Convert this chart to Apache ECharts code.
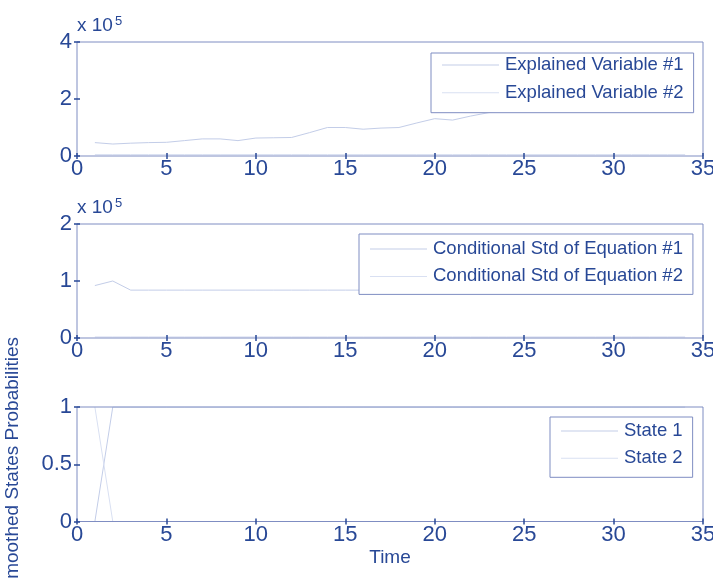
<!DOCTYPE html>
<html>
<head>
<meta charset="utf-8">
<script src="https://cdn.jsdelivr.net/npm/echarts@6/dist/echarts.min.js"></script>
<style>
  html, body { margin: 0; padding: 0; background: #ffffff; }
  #chart { width: 713px; height: 578px; }
</style>
</head>
<body>
<div id="chart"></div>
<script>
// Time index of the regime-switching model output
const timeSteps = [1, 2, 3, 4, 5, 6, 7, 8, 9, 10, 11, 12, 13, 14, 15, 16, 17,
                   18, 19, 20, 21, 22, 23, 24, 25, 26, 27, 28, 29, 30, 31, 32, 33, 34];

// Explained variables (raw units)
const explainedVar1 = [47000, 42000, 45000, 47000, 48000, 54000, 60000, 60000, 54000, 63000,
                       64000, 65000, 82000, 100000, 100000, 94000, 98000, 100000, 116000, 131000,
                       126000, 140000, 152000, 160000, 170000, 180000, 190000, 200000, 210000, 220000,
                       230000, 240000, 250000, 260000];
const explainedVar2 = [5000, 5000, 5000, 5000, 5000, 5000, 5000, 5000, 5000, 5000,
                       5000, 5000, 5000, 5000, 5000, 5000, 5000, 5000, 5000, 5000,
                       5000, 5000, 5000, 5000, 5000, 5000, 5000, 5000, 5000, 5000,
                       5000, 5000, 5000, 5000];

// Conditional standard deviations (raw units)
const condStd1 = [92000, 100000, 84000, 84000, 84000, 84000, 84000, 84000, 84000, 84000,
                  84000, 84000, 84000, 84000, 84000, 84000, 84000, 84000, 84000, 84000,
                  84000, 84000, 84000, 84000, 84000, 84000, 84000, 84000, 84000, 84000,
                  84000, 84000, 84000, 84000];
const condStd2 = [2000, 2000, 2000, 2000, 2000, 2000, 2000, 2000, 2000, 2000,
                  2000, 2000, 2000, 2000, 2000, 2000, 2000, 2000, 2000, 2000,
                  2000, 2000, 2000, 2000, 2000, 2000, 2000, 2000, 2000, 2000,
                  2000, 2000, 2000, 2000];

// Smoothed state probabilities
const state1Prob = [0, 1, 1, 1, 1, 1, 1, 1, 1, 1, 1, 1, 1, 1, 1, 1, 1,
                    1, 1, 1, 1, 1, 1, 1, 1, 1, 1, 1, 1, 1, 1, 1, 1, 1];
const state2Prob = [1, 0, 0, 0, 0, 0, 0, 0, 0, 0, 0, 0, 0, 0, 0, 0, 0,
                    0, 0, 0, 0, 0, 0, 0, 0, 0, 0, 0, 0, 0, 0, 0, 0, 0];

// Axis ranges / tick steps
const timeRange = { min: 0, max: 35, step: 5 };
const panel1Range = { min: 0, max: 400000, step: 200000 };
const panel2Range = { min: 0, max: 200000, step: 100000 };
const panel3Range = { min: 0, max: 1, step: 0.5 };
const scaleExponent = 5;

const TEXT = '#284896';
const BOX = '#7f8dc2';
const LINE_A = '#c3cde8';
const LINE_B = '#d9e0f2';
const FONT = "'Liberation Sans', Arial, Helvetica, sans-serif";
const FS_TICK = 22;   // tick labels
const FS = 18.5;      // legend entries, axis titles

const pairs = (ys) => timeSteps.map((t, i) => [t, ys[i]]);

// Axes boxes sit above the data lines, like a plotting package that draws its frame last
const grids = [
  { left: 77, width: 626, top: 42, height: 114 },
  { left: 77, width: 626, top: 224, height: 114 },
  { left: 77, width: 626, top: 407, height: 114.5 }
].map(g => Object.assign(g, {
  show: true, borderColor: BOX, borderWidth: 1, backgroundColor: 'transparent',
  containLabel: false, outerBoundsMode: 'none', z: 4
}));

const tick = { show: true, inside: true, length: 3, lineStyle: { color: TEXT, width: 1.5 } };

function xAxes(gi, withName) {
  const base = {
    type: 'value', gridIndex: gi, min: timeRange.min, max: timeRange.max, interval: timeRange.step,
    axisLine: { show: false }, splitLine: { show: false }, axisTick: tick, z: 4
  };
  return [
    Object.assign({}, base, {
      position: 'bottom',
      axisLabel: { color: TEXT, fontFamily: FONT, fontSize: FS_TICK, margin: 2 },
      name: withName ? 'Time' : '',
      nameLocation: 'middle', nameGap: 27,
      nameTextStyle: { color: TEXT, fontFamily: FONT, fontSize: 19 }
    }),
    Object.assign({}, base, { position: 'top', axisLabel: { show: false } })
  ];
}

// "x 10^5" scale note above each scaled value axis
const expName = {
  name: '{m|x 10}{e|' + scaleExponent + '}',
  nameLocation: 'end',
  nameGap: 17,
  nameMoveOverlap: false,
  nameTextStyle: {
    align: 'left', verticalAlign: 'middle', color: TEXT, fontFamily: FONT,
    rich: {
      m: { fontSize: 19, color: TEXT, fontFamily: FONT, lineHeight: 20, verticalAlign: 'bottom' },
      e: { fontSize: 13, color: TEXT, fontFamily: FONT, lineHeight: 20, verticalAlign: 'top', padding: [0, 0, 10, 2] }
    }
  }
};

function yAxes(gi, range, scaled, extra) {
  const base = {
    type: 'value', gridIndex: gi, min: range.min, max: range.max, interval: range.step,
    axisLine: { show: false }, splitLine: { show: false }, axisTick: tick, z: 4
  };
  const left = Object.assign({}, base, {
    position: 'left',
    axisLabel: {
      color: TEXT, fontFamily: FONT, fontSize: FS_TICK, margin: 5,
      formatter: v => scaled ? String(v / Math.pow(10, scaleExponent)) : String(v)
    }
  }, extra || {});
  const right = Object.assign({}, base, { position: 'right', axisLabel: { show: false } });
  return [left, right];
}

function lineSeries(name, ys, color, gi) {
  return {
    name, type: 'line', xAxisIndex: gi * 2, yAxisIndex: gi * 2,
    data: pairs(ys), symbol: 'none', showSymbol: false, animation: false,
    lineStyle: { color, width: 1 }, itemStyle: { color }, z: 2
  };
}

function legendBox(names, left, top, padding, gap) {
  return {
    data: names, orient: 'vertical', left, top, padding,
    icon: 'rect', itemWidth: 57, itemHeight: 1, itemGap: gap,
    backgroundColor: '#ffffff', borderColor: BOX, borderWidth: 1, borderRadius: 0,
    textStyle: { color: TEXT, fontFamily: FONT, fontSize: FS, lineHeight: 20, padding: [0, 0, 0, 1] },
    selectedMode: false, z: 10
  };
}

const option = {
  animation: false,
  backgroundColor: '#ffffff',
  textStyle: { fontFamily: FONT },
  grid: grids,
  xAxis: [...xAxes(0, false), ...xAxes(1, false), ...xAxes(2, true)],
  yAxis: [
    ...yAxes(0, panel1Range, true, expName),
    ...yAxes(1, panel2Range, true, expName),
    ...yAxes(2, panel3Range, false, {
      name: 'Smoothed States Probabilities', nameLocation: 'middle', nameGap: 55,
      nameTextStyle: { color: TEXT, fontFamily: FONT, fontSize: 19 }
    })
  ],
  legend: [
    legendBox(['Explained Variable #1', 'Explained Variable #2'], 431, 53, [2, 10, 10, 11], 7.7),
    legendBox(['Conditional Std of Equation #1', 'Conditional Std of Equation #2'], 359, 234, [5, 10, 8, 11], 7.4),
    legendBox(['State 1', 'State 2'], 550, 417, [4, 10, 9, 11], 7.3)
  ],
  series: [
    lineSeries('Explained Variable #1', explainedVar1, LINE_A, 0),
    lineSeries('Explained Variable #2', explainedVar2, LINE_B, 0),
    lineSeries('Conditional Std of Equation #1', condStd1, LINE_A, 1),
    lineSeries('Conditional Std of Equation #2', condStd2, LINE_B, 1),
    lineSeries('State 1', state1Prob, LINE_A, 2),
    lineSeries('State 2', state2Prob, LINE_B, 2)
  ]
};

const chart = echarts.init(document.getElementById('chart'), null, { renderer: 'canvas' });
chart.setOption(option);
</script>
</body>
</html>
